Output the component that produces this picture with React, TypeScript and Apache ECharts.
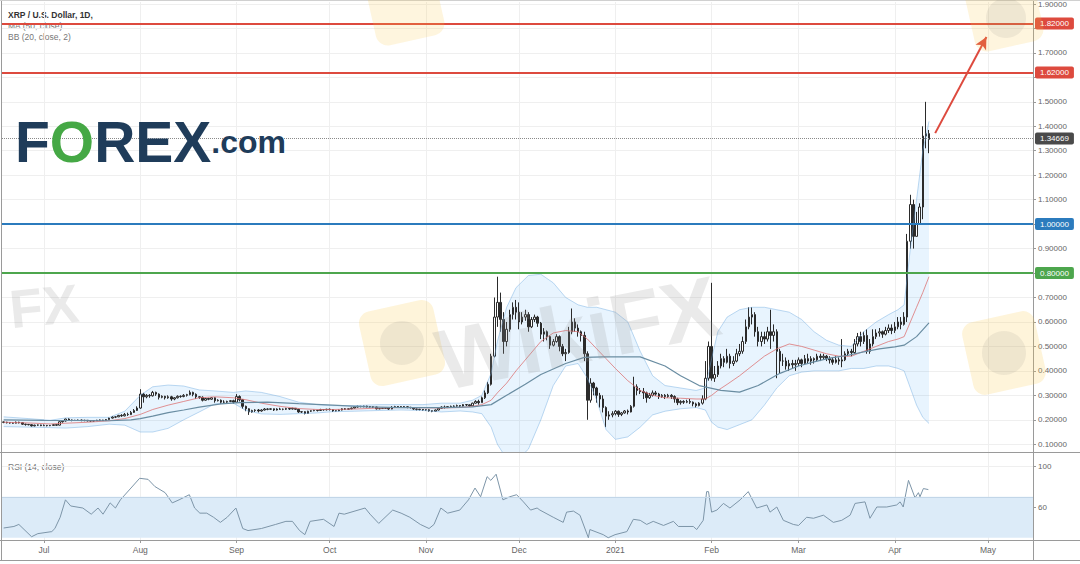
import React, { useEffect, useRef } from 'react';
import * as echarts from 'echarts';

// day 0 = 1 Jul 2020; first candle = 18 Jun 2020
const FIRST_DAY = -13;
const FIRST_OPEN = 0.191;

// daily candles [close, low, high]; open = previous close
const jun2020 = [
  [0.190, 0.186, 0.193], [0.188, 0.185, 0.192], [0.187, 0.184, 0.190], [0.186, 0.184, 0.189], [0.190, 0.185, 0.193],
  [0.188, 0.185, 0.192], [0.182, 0.179, 0.190], [0.181, 0.176, 0.184], [0.180, 0.177, 0.183], [0.175, 0.172, 0.181],
  [0.178, 0.173, 0.180], [0.179, 0.175, 0.181], [0.176, 0.174, 0.180],
];
const jul2020 = [
  [0.177, 0.174, 0.181], [0.176, 0.173, 0.179], [0.177, 0.174, 0.179], [0.180, 0.176, 0.182], [0.178, 0.175, 0.181],
  [0.192, 0.177, 0.194], [0.195, 0.188, 0.198], [0.203, 0.193, 0.205], [0.199, 0.196, 0.206], [0.198, 0.194, 0.201],
  [0.197, 0.195, 0.200], [0.199, 0.195, 0.201], [0.197, 0.194, 0.201], [0.198, 0.194, 0.200], [0.196, 0.193, 0.199],
  [0.195, 0.192, 0.198], [0.196, 0.193, 0.198], [0.198, 0.195, 0.200], [0.199, 0.196, 0.201], [0.197, 0.195, 0.200],
  [0.201, 0.196, 0.203], [0.207, 0.200, 0.209], [0.211, 0.205, 0.215], [0.212, 0.207, 0.215], [0.218, 0.211, 0.220],
  [0.216, 0.212, 0.223], [0.222, 0.214, 0.228], [0.221, 0.216, 0.229], [0.230, 0.220, 0.236], [0.238, 0.228, 0.244],
  [0.248, 0.236, 0.255],
];
const aug2020 = [
  [0.305, 0.245, 0.325], [0.294, 0.270, 0.310], [0.300, 0.288, 0.305], [0.298, 0.290, 0.305], [0.312, 0.295, 0.318],
  [0.305, 0.298, 0.315], [0.292, 0.283, 0.308], [0.296, 0.288, 0.300], [0.290, 0.283, 0.298], [0.294, 0.286, 0.300],
  [0.285, 0.278, 0.298], [0.290, 0.280, 0.293], [0.296, 0.287, 0.300], [0.295, 0.290, 0.300], [0.300, 0.292, 0.305],
  [0.303, 0.295, 0.306], [0.312, 0.300, 0.320], [0.304, 0.296, 0.315], [0.294, 0.285, 0.308], [0.292, 0.286, 0.296],
  [0.280, 0.275, 0.296], [0.287, 0.278, 0.290], [0.284, 0.280, 0.290], [0.290, 0.282, 0.293], [0.278, 0.270, 0.292],
  [0.280, 0.275, 0.284], [0.272, 0.265, 0.283], [0.272, 0.266, 0.280], [0.275, 0.268, 0.278], [0.278, 0.272, 0.281],
  [0.272, 0.266, 0.282],
];
const sep2020 = [
  [0.295, 0.270, 0.305], [0.282, 0.275, 0.300], [0.255, 0.245, 0.285], [0.245, 0.235, 0.258], [0.232, 0.220, 0.247],
  [0.238, 0.229, 0.241], [0.240, 0.232, 0.243], [0.236, 0.230, 0.244], [0.240, 0.233, 0.243], [0.244, 0.238, 0.248],
  [0.243, 0.239, 0.247], [0.245, 0.240, 0.247], [0.240, 0.236, 0.246], [0.244, 0.238, 0.247], [0.243, 0.240, 0.249],
  [0.243, 0.239, 0.246], [0.246, 0.240, 0.249], [0.244, 0.240, 0.248], [0.247, 0.242, 0.249], [0.243, 0.240, 0.248],
  [0.232, 0.228, 0.245], [0.233, 0.228, 0.235], [0.226, 0.222, 0.235], [0.235, 0.224, 0.237], [0.237, 0.232, 0.239],
  [0.239, 0.235, 0.241], [0.238, 0.234, 0.240], [0.242, 0.236, 0.245], [0.241, 0.237, 0.244], [0.243, 0.238, 0.245],
];
const oct2020 = [
  [0.242, 0.238, 0.246], [0.236, 0.232, 0.243], [0.237, 0.234, 0.239], [0.240, 0.235, 0.242], [0.245, 0.238, 0.247],
  [0.243, 0.240, 0.248], [0.245, 0.241, 0.247], [0.248, 0.243, 0.250], [0.252, 0.246, 0.255], [0.255, 0.250, 0.258],
  [0.254, 0.251, 0.257], [0.256, 0.251, 0.258], [0.254, 0.250, 0.258], [0.253, 0.250, 0.256], [0.252, 0.248, 0.255],
  [0.245, 0.242, 0.254], [0.246, 0.243, 0.248], [0.247, 0.244, 0.249], [0.248, 0.245, 0.250], [0.244, 0.240, 0.249],
  [0.251, 0.243, 0.256], [0.254, 0.248, 0.257], [0.252, 0.249, 0.256], [0.254, 0.250, 0.256], [0.253, 0.250, 0.256],
  [0.251, 0.247, 0.255], [0.250, 0.246, 0.253], [0.244, 0.240, 0.252], [0.243, 0.238, 0.246], [0.242, 0.238, 0.245],
  [0.240, 0.237, 0.244],
];
const nov2020 = [
  [0.241, 0.237, 0.243], [0.237, 0.233, 0.243], [0.235, 0.231, 0.238], [0.240, 0.233, 0.242], [0.247, 0.238, 0.250],
  [0.252, 0.245, 0.255], [0.250, 0.246, 0.258], [0.254, 0.248, 0.256], [0.255, 0.251, 0.258], [0.256, 0.252, 0.259],
  [0.258, 0.253, 0.262], [0.256, 0.252, 0.260], [0.262, 0.254, 0.264], [0.261, 0.256, 0.264], [0.257, 0.253, 0.263],
  [0.268, 0.256, 0.270], [0.275, 0.266, 0.280], [0.270, 0.262, 0.282], [0.290, 0.270, 0.295], [0.310, 0.285, 0.320],
  [0.345, 0.305, 0.355], [0.460, 0.340, 0.470], [0.620, 0.455, 0.700], [0.680, 0.580, 0.785], [0.610, 0.560, 0.720],
  [0.520, 0.470, 0.640], [0.570, 0.500, 0.600], [0.630, 0.560, 0.650], [0.660, 0.610, 0.680], [0.640, 0.610, 0.690],
];
const dec2020 = [
  [0.600, 0.570, 0.680], [0.620, 0.590, 0.640], [0.630, 0.605, 0.650], [0.580, 0.560, 0.640], [0.610, 0.575, 0.620],
  [0.620, 0.600, 0.630], [0.595, 0.580, 0.625], [0.550, 0.530, 0.600], [0.560, 0.520, 0.575], [0.540, 0.525, 0.565],
  [0.505, 0.490, 0.545], [0.520, 0.500, 0.530], [0.540, 0.515, 0.550], [0.500, 0.480, 0.545], [0.470, 0.460, 0.510],
  [0.475, 0.440, 0.490], [0.560, 0.470, 0.580], [0.600, 0.550, 0.655], [0.575, 0.560, 0.615], [0.560, 0.540, 0.590],
  [0.545, 0.520, 0.565], [0.470, 0.440, 0.560], [0.280, 0.200, 0.480], [0.350, 0.270, 0.370], [0.330, 0.300, 0.355],
  [0.300, 0.270, 0.335], [0.285, 0.250, 0.310], [0.250, 0.230, 0.300], [0.215, 0.170, 0.255], [0.220, 0.200, 0.235],
  [0.225, 0.210, 0.235],
];
const jan2021 = [
  [0.235, 0.218, 0.240], [0.222, 0.212, 0.238], [0.228, 0.215, 0.232], [0.236, 0.225, 0.240], [0.232, 0.222, 0.242],
  [0.255, 0.230, 0.260], [0.335, 0.250, 0.376], [0.320, 0.300, 0.345], [0.315, 0.305, 0.330], [0.310, 0.285, 0.330],
  [0.290, 0.270, 0.315], [0.300, 0.285, 0.310], [0.310, 0.295, 0.320], [0.305, 0.298, 0.318], [0.295, 0.285, 0.310],
  [0.300, 0.290, 0.305], [0.295, 0.285, 0.305], [0.300, 0.290, 0.306], [0.295, 0.285, 0.305], [0.285, 0.270, 0.300],
  [0.270, 0.260, 0.290], [0.275, 0.262, 0.280], [0.272, 0.265, 0.280], [0.275, 0.268, 0.282], [0.272, 0.265, 0.285],
  [0.265, 0.255, 0.275], [0.258, 0.250, 0.270], [0.268, 0.255, 0.272], [0.285, 0.262, 0.300], [0.370, 0.280, 0.440],
  [0.500, 0.360, 0.520],
];
const feb2021 = [
  [0.370, 0.360, 0.760], [0.385, 0.355, 0.420], [0.420, 0.375, 0.440], [0.450, 0.410, 0.470], [0.435, 0.415, 0.460],
  [0.460, 0.430, 0.490], [0.430, 0.410, 0.470], [0.440, 0.420, 0.460], [0.470, 0.435, 0.490], [0.480, 0.460, 0.510],
  [0.520, 0.470, 0.540], [0.580, 0.510, 0.610], [0.620, 0.570, 0.660], [0.630, 0.590, 0.660], [0.560, 0.540, 0.640],
  [0.520, 0.500, 0.580], [0.540, 0.500, 0.560], [0.530, 0.510, 0.560], [0.560, 0.520, 0.580], [0.545, 0.490, 0.650],
  [0.560, 0.520, 0.590], [0.480, 0.370, 0.570], [0.440, 0.390, 0.490], [0.440, 0.420, 0.470], [0.420, 0.405, 0.455],
  [0.430, 0.400, 0.445], [0.425, 0.410, 0.445], [0.430, 0.400, 0.445],
];
const mar2021 = [
  [0.445, 0.420, 0.455], [0.430, 0.415, 0.450], [0.450, 0.425, 0.465], [0.440, 0.430, 0.470], [0.450, 0.425, 0.460],
  [0.445, 0.430, 0.455], [0.460, 0.440, 0.470], [0.455, 0.440, 0.470], [0.460, 0.445, 0.470], [0.450, 0.440, 0.465],
  [0.445, 0.430, 0.460], [0.435, 0.425, 0.455], [0.445, 0.430, 0.460], [0.440, 0.425, 0.455], [0.445, 0.415, 0.530],
  [0.470, 0.440, 0.480], [0.480, 0.460, 0.490], [0.475, 0.460, 0.490], [0.510, 0.470, 0.530], [0.540, 0.500, 0.555],
  [0.520, 0.500, 0.560], [0.545, 0.510, 0.560], [0.480, 0.470, 0.570], [0.510, 0.470, 0.530], [0.540, 0.500, 0.570],
  [0.555, 0.530, 0.570], [0.560, 0.540, 0.575], [0.550, 0.535, 0.565], [0.565, 0.545, 0.580], [0.575, 0.555, 0.590],
  [0.565, 0.550, 0.590],
];
const apr2021 = [
  [0.580, 0.555, 0.600], [0.600, 0.570, 0.620], [0.590, 0.570, 0.620], [0.620, 0.585, 0.640], [0.930, 0.600, 0.960],
  [1.080, 0.900, 1.120], [0.950, 0.900, 1.100], [1.000, 0.950, 1.050], [1.070, 1.000, 1.085], [1.360, 1.020, 1.400],
  [1.370, 1.310, 1.500], [1.34669, 1.290, 1.385],
];

const monthDays = [0, 31, 62, 92, 123, 153, 184, 215, 243, 274, 304];
const monthLabels = ['Jul', 'Aug', 'Sep', 'Oct', 'Nov', 'Dec', '2021', 'Feb', 'Mar', 'Apr', 'May'];
const priceTicks = [0.1, 0.2, 0.3, 0.4, 0.5, 0.6, 0.7, 0.8, 0.9, 1.0, 1.1, 1.2, 1.3, 1.4, 1.5, 1.6, 1.7, 1.8, 1.9];
const priceLabelValues = [0.1, 0.2, 0.3, 0.4, 0.5, 0.6, 0.7, 0.9, 1.1, 1.2, 1.3, 1.4, 1.5, 1.7, 1.9];
const rsiTicks = [60, 100];

const levelValues = [1.82, 1.62, 1.0, 0.8];
const levelColors = ['#dd4a3e', '#dd4a3e', '#2b7bbd', '#4da64d'];
const LAST_PRICE = 1.34669;
const arrowStart = [287, 1.372];
const arrowEnd = [303.5, 1.765];

// MA (50, close)
const maDays = [-13, 0, 10, 21, 28, 31, 35, 40, 45, 50, 57, 63, 72, 82, 93, 104, 115, 128, 138, 144, 149, 155, 160, 168, 174, 180, 192, 200, 205, 211, 218, 224, 230, 237, 243, 248, 253, 259, 264, 269, 274, 277, 281, 285];
const maValues = [0.200, 0.198, 0.197, 0.196, 0.200, 0.205, 0.215, 0.229, 0.240, 0.252, 0.265, 0.270, 0.272, 0.266, 0.260, 0.253, 0.250, 0.250, 0.253, 0.262, 0.300, 0.345, 0.385, 0.430, 0.455, 0.457, 0.457, 0.420, 0.380, 0.340, 0.320, 0.313, 0.340, 0.390, 0.420, 0.437, 0.452, 0.464, 0.478, 0.490, 0.498, 0.505, 0.540, 0.596];

// BB (20, close, 2)
const bbDays = [-13, -5, 2, 7, 14, 21, 26, 31, 35, 40, 45, 50, 55, 61, 65, 70, 76, 82, 88, 93, 100, 108, 115, 122, 128, 134, 138, 141, 144, 146, 149, 152, 156, 160, 164, 168, 172, 175, 178, 181, 184, 188, 192, 196, 200, 205, 210, 213, 215, 217, 220, 224, 228, 232, 236, 240, 244, 248, 252, 256, 260, 264, 268, 272, 275, 277, 279, 281, 283, 285];
const bbUpper = [0.212, 0.205, 0.198, 0.208, 0.210, 0.210, 0.235, 0.300, 0.335, 0.342, 0.338, 0.322, 0.318, 0.312, 0.318, 0.312, 0.295, 0.272, 0.262, 0.258, 0.258, 0.262, 0.262, 0.262, 0.268, 0.268, 0.280, 0.300, 0.390, 0.520, 0.660, 0.740, 0.790, 0.795, 0.760, 0.700, 0.670, 0.660, 0.660, 0.650, 0.640, 0.600, 0.480, 0.380, 0.340, 0.330, 0.320, 0.330, 0.450, 0.560, 0.620, 0.650, 0.660, 0.660, 0.650, 0.640, 0.610, 0.560, 0.525, 0.505, 0.500, 0.560, 0.600, 0.630, 0.650, 0.670, 0.900, 1.100, 1.300, 1.420];
const bbLower = [0.172, 0.170, 0.168, 0.166, 0.172, 0.182, 0.178, 0.150, 0.150, 0.165, 0.200, 0.232, 0.265, 0.268, 0.238, 0.224, 0.222, 0.225, 0.228, 0.233, 0.235, 0.238, 0.240, 0.238, 0.232, 0.236, 0.232, 0.225, 0.170, 0.100, 0.040, 0.030, 0.080, 0.200, 0.340, 0.420, 0.430, 0.370, 0.280, 0.160, 0.120, 0.130, 0.170, 0.220, 0.235, 0.245, 0.250, 0.240, 0.190, 0.170, 0.160, 0.180, 0.200, 0.260, 0.330, 0.380, 0.395, 0.400, 0.400, 0.400, 0.410, 0.410, 0.420, 0.420, 0.410, 0.400, 0.330, 0.260, 0.210, 0.185];
const bbBasis = [0.190, 0.187, 0.183, 0.186, 0.190, 0.196, 0.205, 0.222, 0.242, 0.260, 0.275, 0.290, 0.294, 0.290, 0.282, 0.268, 0.255, 0.246, 0.242, 0.242, 0.244, 0.248, 0.250, 0.249, 0.248, 0.250, 0.255, 0.262, 0.280, 0.310, 0.350, 0.400, 0.460, 0.520, 0.555, 0.565, 0.560, 0.530, 0.490, 0.450, 0.410, 0.360, 0.320, 0.300, 0.290, 0.288, 0.285, 0.285, 0.300, 0.320, 0.345, 0.380, 0.420, 0.460, 0.490, 0.510, 0.500, 0.485, 0.470, 0.460, 0.460, 0.480, 0.500, 0.520, 0.530, 0.540, 0.600, 0.660, 0.720, 0.785];

// RSI (14, close)
const rsiDays = [-13, -9.7, -8.1, -4, -2, 2.5, 3.5, 5.2, 6.9, 8.6, 12.5, 15.2, 17.4, 19, 21.3, 23, 24.6, 28, 30.8, 33.5, 35.7, 39, 41.3, 43.5, 46.8, 48.5, 50.2, 52.4, 54.6, 56.8, 59, 61.8, 64, 65.7, 70, 74.6, 77.9, 80, 82.3, 84, 85.7, 90, 93.4, 95, 96.7, 103.4, 105, 107.8, 112.3, 115, 117.8, 121.2, 124, 125.6, 127.8, 130, 133.9, 136.7, 138.8, 140.6, 142.7, 143.9, 145.6, 147.8, 150, 152.2, 154.4, 156.7, 158.8, 159.7, 164, 167.2, 168.3, 170.5, 172.6, 175.3, 175.8, 180.1, 181.7, 183.9, 187.7, 189.8, 192, 194.1, 196.2, 199.5, 202.7, 204.3, 209.1, 210.2, 212.3, 213.4, 214, 215, 216.7, 218.8, 220.9, 224.2, 226.8, 229.5, 232.8, 233.8, 236, 238.1, 241.3, 243, 245.6, 247.8, 251, 254.2, 256.9, 259.6, 261.2, 264.4, 266, 268.2, 271.4, 274.6, 275.7, 276.7, 278.4, 280.5, 281.6, 282.1, 283.2, 284.8];
const rsiValues = [39.5, 41, 43, 31, 34, 36, 39, 50, 67, 61, 59, 53, 59, 53, 64, 59, 67, 78.5, 88, 87, 80, 74, 64, 67, 72, 59, 54, 54, 50, 45, 50, 59, 39, 37, 39, 43, 46, 46, 37, 33, 46, 48, 41, 54, 53, 59, 53, 44, 57, 54, 50, 43, 39, 43, 59, 54, 57, 67, 78.5, 70, 89.6, 86, 92, 67, 70, 72, 65, 57, 59, 57, 50, 45, 55, 56, 52, 30, 38, 33, 30, 33, 36, 48, 47, 43, 46, 42, 46, 41, 41, 38, 47, 75, 75, 55, 57, 63.5, 59, 67, 75, 59, 62, 55, 60, 47, 43, 42, 50, 49, 52, 45, 47, 52, 63.5, 65, 49, 60, 60, 62, 65, 60, 86, 69, 74, 70, 78, 77];

const X_MIN = -13.53;
const X_MAX = 318.5;
const Y_MIN = 0.0683;
const Y_MAX = 1.908;
const RSI_MIN = 27.8;
const RSI_MAX = 112.7;

const FONT = 'Liberation Sans, Arial, sans-serif';
const AXIS_GRAY = '#9a9a9a';
const GRID_GRAY = '#efefef';

export default function App() {
  const ref = useRef<HTMLDivElement>(null);

  useEffect(() => {
    document.body.style.margin = '0';
    if (!ref.current) return;
    const chart = echarts.init(ref.current, undefined, { renderer: 'svg' });

    const rows = [...jun2020, ...jul2020, ...aug2020, ...sep2020, ...oct2020, ...nov2020, ...dec2020, ...jan2021, ...feb2021, ...mar2021, ...apr2021];
    const candleData = rows.map((r, i) => {
      const open = i === 0 ? FIRST_OPEN : rows[i - 1][0];
      return [FIRST_DAY + i, open, r[0], r[1], r[2]];
    });

    const maData = maDays.map((d, i) => [d, maValues[i]]);
    const upperData = bbDays.map((d, i) => [d, bbUpper[i]]);
    const lowerData = bbDays.map((d, i) => [d, bbLower[i]]);
    const basisData = bbDays.map((d, i) => [d, bbBasis[i]]);
    const rsiData = rsiDays.map((d, i) => [d, rsiValues[i]]);

    const monthFormatter = (v: number) => {
      const i = monthDays.indexOf(Math.round(v));
      return i >= 0 ? monthLabels[i] : '';
    };

    const levelLines = levelValues.map((v, i) => ({
      yAxis: v,
      lineStyle: { color: levelColors[i], width: 2, type: 'solid' },
      label: {
        show: true, position: 'end', distance: 2, formatter: v.toFixed(5), color: '#ffffff',
        backgroundColor: levelColors[i], padding: [2, 5, 2, 5], borderRadius: 2, fontSize: 8, fontFamily: FONT,
      },
    }));

    const option: any = {
      animation: false,
      backgroundColor: '#ffffff',
      textStyle: { fontFamily: FONT },
      grid: [
        { left: 2, right: 47, top: 2, height: 450 },
        { left: 2, right: 47, top: 453, height: 87 },
      ],
      xAxis: [
        {
          type: 'value', gridIndex: 0, min: X_MIN, max: X_MAX,
          axisLine: { show: true, onZero: false, lineStyle: { color: AXIS_GRAY } },
          axisTick: { show: false, customValues: monthDays },
          axisLabel: { show: false, customValues: monthDays },
          splitLine: { show: true, lineStyle: { color: GRID_GRAY } },
        },
        {
          type: 'value', gridIndex: 1, min: X_MIN, max: X_MAX,
          axisLine: { show: true, onZero: false, lineStyle: { color: AXIS_GRAY } },
          axisTick: { show: true, length: 3, customValues: monthDays, lineStyle: { color: AXIS_GRAY } },
          axisLabel: { customValues: monthDays, formatter: monthFormatter, color: '#666', fontSize: 8.5, margin: 5, fontFamily: FONT },
          splitLine: { show: true, lineStyle: { color: GRID_GRAY } },
        },
      ],
      yAxis: [
        {
          type: 'value', gridIndex: 0, position: 'right', min: Y_MIN, max: Y_MAX,
          axisLine: { show: true, onZero: false, lineStyle: { color: AXIS_GRAY } },
          axisTick: { show: true, length: 3, customValues: priceTicks, lineStyle: { color: AXIS_GRAY } },
          axisLabel: { customValues: priceLabelValues, formatter: (v: number) => Number(v).toFixed(5), color: '#666', fontSize: 8, margin: 5, fontFamily: FONT },
          splitLine: { show: true, lineStyle: { color: GRID_GRAY } },
        },
        {
          type: 'value', gridIndex: 1, position: 'right', min: RSI_MIN, max: RSI_MAX,
          axisLine: { show: true, onZero: false, lineStyle: { color: AXIS_GRAY } },
          axisTick: { show: true, length: 3, customValues: rsiTicks, lineStyle: { color: AXIS_GRAY } },
          axisLabel: { customValues: rsiTicks, color: '#666', fontSize: 8, margin: 5, fontFamily: FONT },
          splitLine: { show: true, lineStyle: { color: GRID_GRAY } },
        },
      ],
      series: [
        {
          type: 'custom', xAxisIndex: 0, yAxisIndex: 0, silent: true, z: 1,
          data: [[0, 0.5]],
          renderItem: (params: any, api: any) => {
            const pts: number[][] = [];
            for (let i = 0; i < bbDays.length; i++) pts.push(api.coord([bbDays[i], bbUpper[i]]));
            for (let i = bbDays.length - 1; i >= 0; i--) pts.push(api.coord([bbDays[i], bbLower[i]]));
            const cs = params.coordSys;
            return {
              type: 'polygon',
              shape: { points: pts },
              style: { fill: 'rgba(33,150,243,0.10)' },
              clipPath: { type: 'rect', shape: { x: cs.x, y: cs.y, width: cs.width, height: cs.height } },
            };
          },
        },
        { type: 'line', xAxisIndex: 0, yAxisIndex: 0, data: upperData, showSymbol: false, silent: true, lineStyle: { color: 'rgba(110,170,225,0.45)', width: 1 } },
        { type: 'line', xAxisIndex: 0, yAxisIndex: 0, data: lowerData, showSymbol: false, silent: true, lineStyle: { color: 'rgba(110,170,225,0.45)', width: 1 } },
        { type: 'line', xAxisIndex: 0, yAxisIndex: 0, data: basisData, showSymbol: false, silent: true, lineStyle: { color: 'rgba(220,110,110,0.75)', width: 1 } },
        { type: 'line', xAxisIndex: 0, yAxisIndex: 0, data: maData, showSymbol: false, silent: true, lineStyle: { color: '#6a8da2', width: 1.2 } },
        {
          type: 'candlestick', xAxisIndex: 0, yAxisIndex: 0, data: candleData, barWidth: 2, silent: true,
          itemStyle: { color: '#ffffff', color0: '#2b2b2b', borderColor: '#2b2b2b', borderColor0: '#2b2b2b', borderWidth: 1 },
          markLine: {
            silent: true, symbol: ['none', 'none'], animation: false,
            data: [
              ...levelLines,
              {
                yAxis: LAST_PRICE,
                lineStyle: { color: '#8a8a8a', width: 1, type: 'dotted' },
                label: {
                  show: true, position: 'end', distance: 2, formatter: LAST_PRICE.toFixed(5), color: '#ffffff',
                  backgroundColor: '#4a4a4a', padding: [2, 5, 2, 5], borderRadius: 2, fontSize: 8, fontFamily: FONT,
                },
              },
              {
                yAxis: LAST_PRICE,
                lineStyle: { opacity: 0 },
                label: {
                  show: true, position: 'insideEnd', distance: 2, formatter: 'XRPUSD', color: '#ffffff',
                  backgroundColor: '#4a4a4a', padding: [2, 3, 2, 3], borderRadius: 2, fontSize: 8, fontFamily: FONT,
                },
              },
              [
                { coord: arrowStart, symbol: 'none', lineStyle: { color: '#dd4a3e', width: 2, type: 'solid' }, label: { show: false } },
                { coord: arrowEnd, symbol: 'arrow', symbolSize: [9, 12] },
              ],
            ],
          },
        },
        {
          type: 'line', xAxisIndex: 1, yAxisIndex: 1, data: rsiData, showSymbol: false, silent: true,
          lineStyle: { color: '#7d95a8', width: 1 },
          markArea: {
            silent: true,
            itemStyle: { color: '#dcebf8' },
            data: [[{ yAxis: 30 }, { yAxis: 70 }]],
          },
          markLine: {
            silent: true, symbol: ['none', 'none'],
            lineStyle: { color: '#c2d6e8', width: 1, type: 'solid' },
            label: { show: false },
            data: [{ yAxis: 70 }],
          },
        },
      ],
      graphic: [
        // frame
        { type: 'line', silent: true, shape: { x1: 0, y1: 452.5, x2: 1080, y2: 452.5 }, style: { stroke: AXIS_GRAY, lineWidth: 1 } },
        { type: 'line', silent: true, shape: { x1: 0, y1: 540.5, x2: 1080, y2: 540.5 }, style: { stroke: AXIS_GRAY, lineWidth: 1 } },
        { type: 'line', silent: true, shape: { x1: 0, y1: 560.5, x2: 1080, y2: 560.5 }, style: { stroke: AXIS_GRAY, lineWidth: 1 } },
        { type: 'line', silent: true, shape: { x1: 1033.5, y1: 0, x2: 1033.5, y2: 561 }, style: { stroke: AXIS_GRAY, lineWidth: 1 } },
        { type: 'line', silent: true, shape: { x1: 1.5, y1: 0, x2: 1.5, y2: 561 }, style: { stroke: AXIS_GRAY, lineWidth: 1 } },
        { type: 'line', silent: true, shape: { x1: 0, y1: 0.5, x2: 1080, y2: 0.5 }, style: { stroke: '#d0d0d0', lineWidth: 1 } },
        // header
        { type: 'text', silent: true, x: 8, y: 15, style: { text: 'XRP / U.S. Dollar, 1D,', fill: '#333', font: `bold 8.5px ${FONT}`, verticalAlign: 'middle' } },
        { type: 'text', silent: true, x: 8, y: 26, style: { text: 'MA (50, close)', fill: '#777', font: `8.5px ${FONT}`, verticalAlign: 'middle' } },
        { type: 'text', silent: true, x: 8, y: 37, style: { text: 'BB (20, close, 2)', fill: '#777', font: `8.5px ${FONT}`, verticalAlign: 'middle' } },
        { type: 'text', silent: true, x: 8, y: 466.5, style: { text: 'RSI (14, close)', fill: '#777', font: `8.5px ${FONT}`, verticalAlign: 'middle' } },
        // FOREX.com logo
        {
          type: 'text', silent: true, x: 15, y: 142, z: 10,
          style: {
            text: '{f|F}{o|O}{f|REX}{c|.com}',
            verticalAlign: 'middle',
            rich: {
              f: { fontSize: 57, fontWeight: 'bold', fill: '#1f3c5a', fontFamily: FONT },
              o: { fontSize: 57, fontWeight: 'bold', fill: '#45a845', fontFamily: FONT },
              c: { fontSize: 32, fontWeight: 'bold', fill: '#1f3c5a', fontFamily: FONT },
            },
          },
        },
        // watermarks
        { type: 'rect', silent: true, x: 402, y: 343, rotation: 0.22, z: 20, shape: { x: -38, y: -38, width: 76, height: 76, r: 12 }, style: { fill: 'rgba(250,200,70,0.20)' } },
        { type: 'circle', silent: true, x: 402, y: 343, z: 21, shape: { cx: 0, cy: 0, r: 22 }, style: { fill: 'rgba(110,110,110,0.10)' } },
        { type: 'rect', silent: true, x: 1004, y: 353, rotation: 0.22, z: 20, shape: { x: -37, y: -37, width: 74, height: 74, r: 12 }, style: { fill: 'rgba(250,200,70,0.20)' } },
        { type: 'circle', silent: true, x: 1004, y: 353, z: 21, shape: { cx: 0, cy: 0, r: 22 }, style: { fill: 'rgba(110,110,110,0.10)' } },
        { type: 'rect', silent: true, x: 405, y: 6, rotation: 0.22, z: 20, shape: { x: -35, y: -35, width: 70, height: 70, r: 12 }, style: { fill: 'rgba(250,200,70,0.18)' } },
        { type: 'rect', silent: true, x: 1004, y: 12, rotation: 0.22, z: 20, shape: { x: -35, y: -35, width: 70, height: 70, r: 12 }, style: { fill: 'rgba(250,200,70,0.18)' } },
        { type: 'circle', silent: true, x: 1006, y: 18, z: 21, shape: { cx: 0, cy: 0, r: 20 }, style: { fill: 'rgba(110,110,110,0.10)' } },
        { type: 'text', silent: true, x: 578, y: 333, rotation: 0.2, z: 20, style: { text: 'WikiFX', fill: 'rgba(150,150,150,0.20)', font: `bold 86px ${FONT}`, align: 'center', verticalAlign: 'middle' } },
        { type: 'text', silent: true, x: 44, y: 306, rotation: 0.1, z: 20, style: { text: 'FX', fill: 'rgba(150,150,150,0.20)', font: `bold 54px ${FONT}`, align: 'center', verticalAlign: 'middle' } },
      ],
    };

    chart.setOption(option);
    return () => chart.dispose();
  }, []);

  return <div ref={ref} style={{ width: 1080, height: 564 }} />;
}
